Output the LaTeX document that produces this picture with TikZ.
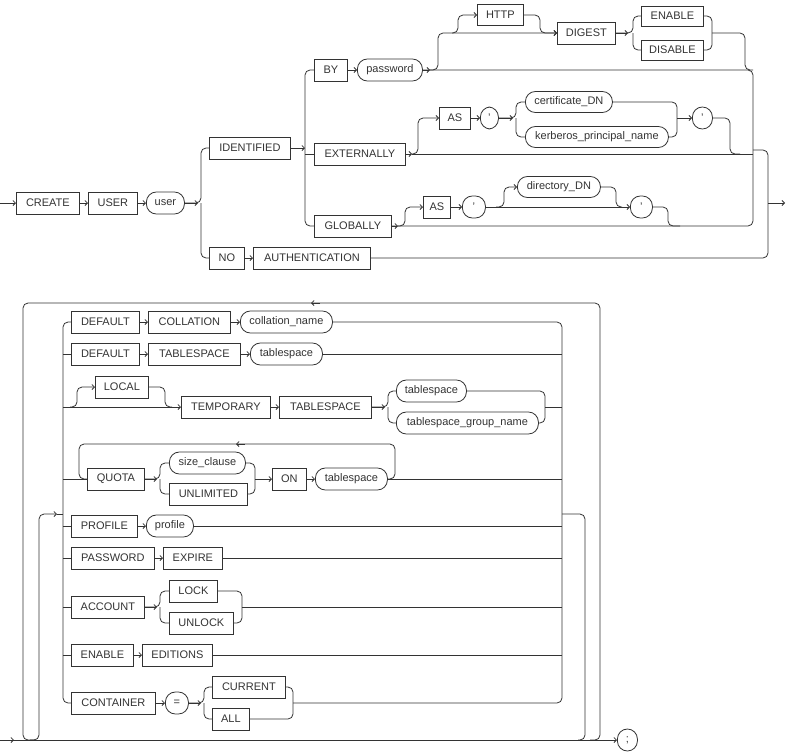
\documentclass[tikz,border=0pt]{standalone}
\usepackage{fontspec}
\setmainfont{Liberation Sans}
\usetikzlibrary{arrows.meta}
\tikzset{
  kw/.style = {draw, rectangle, anchor = west, minimum height = 22, inner xsep = 2, inner ysep = 0,
               font = \fontsize{11}{13}\selectfont},
  var/.style = {kw, rounded corners = 10},
  rc/.style = {rounded corners = 5},
  >={Straight Barb[length = 2.5pt, width = 5pt]}
}
\begin{document}
\begin{tikzpicture}[x = 1pt, y = -1pt, line width = 0.8pt, color = black!80]
\useasboundingbox (0,0) rectangle (787,753);
%% upper diagram
\node[kw, minimum width = 63]  (create)     at (16,203)  {CREATE};
\node[kw, minimum width = 49]  (user)       at (88,203)  {USER};
\node[var, minimum width = 38] (userv)      at (146,203) {user};
\node[kw, minimum width = 81]  (identified) at (209,148) {IDENTIFIED};
\node[kw, minimum width = 35]  (no)         at (209,258) {NO};
\node[kw, minimum width = 117] (auth)       at (253,258) {AUTHENTICATION};
\node[kw, minimum width = 33]  (by)         at (314,70)  {BY};
\node[var, minimum width = 65] (password)   at (357,70)  {password};
\node[kw, minimum width = 91]  (externally) at (314,154) {EXTERNALLY};
\node[kw, minimum width = 77]  (globally)   at (314,226) {GLOBALLY};
\node[kw, minimum width = 46, minimum height = 21] (http) at (477,15) {HTTP};
\node[kw, minimum width = 58]  (digest)     at (557,33)  {DIGEST};
\node[kw, minimum width = 62, minimum height = 20] (enable)  at (641,16) {ENABLE};
\node[kw, minimum width = 62, minimum height = 20] (disable) at (641,50) {DISABLE};
\node[kw, minimum width = 31]  (as1)        at (439,118) {AS};
\node[var, minimum width = 18] (q1)         at (480,118) {'};
\node[var, minimum width = 87, minimum height = 21] (cert) at (525,102) {certificate\_DN};
\node[var, minimum width = 143, minimum height = 21] (kerb) at (525,137) {kerberos\_principal\_name};
\node[var, minimum width = 20] (q2)         at (692,118) {'};
\node[kw, minimum width = 27]  (as2)        at (423,207) {AS};
\node[var, minimum width = 23] (q3)         at (462,207) {'};
\node[var, minimum width = 83, minimum height = 21] (dirdn) at (517,187) {directory\_DN};
\node[var, minimum width = 22] (q4)         at (630,207) {'};
\coordinate (in1)  at (0,203);
\coordinate (out1) at (785,203);

\draw[->] (in1) -- (create);
\draw[->] (create) -- (user);
\draw[->] (user) -- (userv);
\draw[->] (userv) -- (198,203);
\draw[rc] (userv.east) -- (201,203) -- (201,148) -- (identified.west);
\draw[rc] (201,203) -- (201,258) -- (no.west);
\draw[->] (no) -- (auth);
\draw[rc] (auth.east) -- (768,258) -- (768,150) -- (753,150);
\draw[->] (768,203) -- (out1);
\draw[->] (identified) -- (305,148);
\draw[rc] (by.west) -- (305,70) -- (305,226) -- (globally.west);
\draw (305,154) -- (externally.west);
% BY password
\draw[->] (by) -- (password);
\draw[->] (password) -- (430,70);
\draw[rc] (password.east) -- (753,70) -- (753,226) -- (globally.east);
\draw[rc, ->] (430,70) -- (438,70) -- (438,33) -- (digest.west);
\draw[rc, ->] (452,33) -- (458,33) -- (458,15) -- (http.west);
\draw[rc, ->] (http.east) -- (540,15) -- (540,33) -- (digest.west);
\draw[->] (digest) -- (628,33);
\draw[rc] (digest.east) -- (633,33) -- (633,16) -- (enable.west);
\draw[rc] (633,33) -- (633,50) -- (disable.west);
\draw[rc] (enable.east) -- (712,16) -- (712,50) -- (disable.east);
\draw[rc] (712,33) -- (745,33) -- (745,70) -- (753,70);
% EXTERNALLY
\draw[->] (externally) -- (412,154);
\draw (412,154) -- (753,154);
\draw[rc, ->] (412,154) -- (418,154) -- (418,118) -- (as1.west);
\draw[->] (as1) -- (q1);
\draw[->] (q1) -- (513,118);
\draw[rc] (q1.east) -- (516,118) -- (516,102) -- (cert.west);
\draw[rc] (516,118) -- (516,137) -- (kerb.west);
\draw[rc] (cert.east) -- (677,102) -- (677,137) -- (kerb.east);
\draw[->] (677,118) -- (q2);
\draw[rc] (q2.east) -- (730,118) -- (730,154) -- (740,154);
% GLOBALLY
\draw[->] (globally) -- (398,226);
\draw[rc, ->] (398,226) -- (405,226) -- (405,207) -- (as2.west);
\draw[->] (as2) -- (q3);
\draw[->] (q3) -- (q4);
\draw[rc, ->] (496,207) -- (504,207) -- (504,187) -- (dirdn.west);
\draw[rc] (dirdn.east) -- (616,187) -- (616,207) -- (622,207);
\draw[rc] (q4.east) -- (668,207) -- (668,226) -- (680,226);

%% lower diagram
\node[kw, minimum width = 68]  (def1)  at (71,322)  {DEFAULT};
\node[kw, minimum width = 82]  (coll)  at (148,322) {COLLATION};
\node[var, minimum width = 92] (colln) at (240,322) {collation\_name};
\node[kw, minimum width = 68]  (def2)  at (71,354)  {DEFAULT};
\node[kw, minimum width = 92]  (tbs1)  at (148,354) {TABLESPACE};
\node[var, minimum width = 72] (tsp1)  at (250,354) {tablespace};
\node[kw, minimum width = 53]  (local) at (95,387)  {LOCAL};
\node[kw, minimum width = 89]  (temp)  at (181,407) {TEMPORARY};
\node[kw, minimum width = 92]  (tbs2)  at (279,407) {TABLESPACE};
\node[var, minimum width = 70] (tsp2)  at (396,391) {tablespace};
\node[var, minimum width = 142] (tgn)  at (396,423) {tablespace\_group\_name};
\node[kw, minimum width = 57]  (quota) at (87,479)  {QUOTA};
\node[var, minimum width = 76] (sizec) at (169,463) {size\_clause};
\node[kw, minimum width = 78]  (unlim) at (169,494) {UNLIMITED};
\node[kw, minimum width = 34]  (on)    at (272,479) {ON};
\node[var, minimum width = 72] (tsp3)  at (315,479) {tablespace};
\node[kw, minimum width = 66]  (profile) at (71,526) {PROFILE};
\node[var, minimum width = 47] (profv) at (146,526) {profile};
\node[kw, minimum width = 83]  (pwd)   at (71,558)  {PASSWORD};
\node[kw, minimum width = 59]  (expire) at (163,558) {EXPIRE};
\node[kw, minimum width = 73]  (account) at (71,607) {ACCOUNT};
\node[kw, minimum width = 48]  (lock)  at (169,591) {LOCK};
\node[kw, minimum width = 64]  (unlock) at (169,623) {UNLOCK};
\node[kw, minimum width = 62]  (enable2) at (71,655) {ENABLE};
\node[kw, minimum width = 70]  (editions) at (142,655) {EDITIONS};
\node[kw, minimum width = 84]  (container) at (71,703) {CONTAINER};
\node[var, minimum width = 23] (eq)    at (165,703) {=};
\node[kw, minimum width = 73]  (current) at (212,687) {CURRENT};
\node[kw, minimum width = 37]  (all)   at (212,719) {ALL};
\node[var, minimum width = 20] (semi)  at (617,740) {;};
\coordinate (in2) at (0,740);

% main line and loops
\draw[->] (in2) -- (semi);
\draw[->] (in2) -- (14,740);
\draw[rc] (35,740) -- (23,740) -- (23,303) -- (600,303) -- (600,740) -- (590,740);
\draw[->] (320,303) -- (311,303);
\draw[rc, ->] (30,740) -- (39,740) -- (39,514) -- (57,514);
\draw (57,514) -- (63,514);
\draw[rc] (562,514) -- (585,514) -- (585,740) -- (578,740);
\draw[rc] (def1.west) -- (63,322) -- (63,703) -- (container.west);
\draw[rc] (colln.east) -- (562,322) -- (562,703) -- (293,703);
% rows
\draw[->] (def1) -- (coll);
\draw[->] (coll) -- (colln);
\draw (63,354) -- (def2.west);
\draw[->] (def2) -- (tbs1);
\draw[->] (tbs1) -- (tsp1);
\draw (tsp1.east) -- (562,354);
\draw[->] (63,407) -- (temp.west);
\draw[rc, ->] (70,407) -- (77,407) -- (77,387) -- (local.west);
\draw[rc] (local.east) -- (165,387) -- (165,407) -- (172,407);
\draw[->] (temp) -- (tbs2);
\draw[->] (tbs2) -- (385,407);
\draw[rc] (tbs2.east) -- (388,407) -- (388,391) -- (tsp2.west);
\draw[rc] (388,407) -- (388,423) -- (tgn.west);
\draw[rc] (tsp2.east) -- (545,391) -- (545,423) -- (tgn.east);
\draw (545,407) -- (562,407);
\draw (63,479) -- (quota.west);
\draw[rc] (tsp3.east) -- (395,479) -- (395,444) -- (79,444) -- (79,479) -- (quota.west);
\draw[->] (245,444) -- (236,444);
\draw (tsp3.east) -- (562,479);
\draw[->] (quota) -- (157,479);
\draw[rc] (quota.east) -- (160,479) -- (160,463) -- (sizec.west);
\draw[rc] (160,479) -- (160,494) -- (unlim.west);
\draw[rc] (sizec.east) -- (255,463) -- (255,494) -- (unlim.east);
\draw[->] (255,479) -- (on);
\draw[->] (on) -- (tsp3);
\draw (63,526) -- (profile.west);
\draw[->] (profile) -- (profv);
\draw (profv.east) -- (562,526);
\draw (63,558) -- (pwd.west);
\draw[->] (pwd) -- (expire);
\draw (expire.east) -- (562,558);
\draw (63,607) -- (account.west);
\draw[->] (account) -- (157,607);
\draw[rc] (account.east) -- (160,607) -- (160,591) -- (lock.west);
\draw[rc] (160,607) -- (160,623) -- (unlock.west);
\draw[rc] (lock.east) -- (242,591) -- (242,623) -- (unlock.east);
\draw (242,607) -- (562,607);
\draw (63,655) -- (enable2.west);
\draw[->] (enable2) -- (editions);
\draw (editions.east) -- (562,655);
\draw[->] (container) -- (eq);
\draw[->] (eq) -- (201,703);
\draw[rc] (eq.east) -- (204,703) -- (204,687) -- (current.west);
\draw[rc] (204,703) -- (204,719) -- (all.west);
\draw[rc] (current.east) -- (293,687) -- (293,719) -- (all.east);
\end{tikzpicture}
\end{document}
